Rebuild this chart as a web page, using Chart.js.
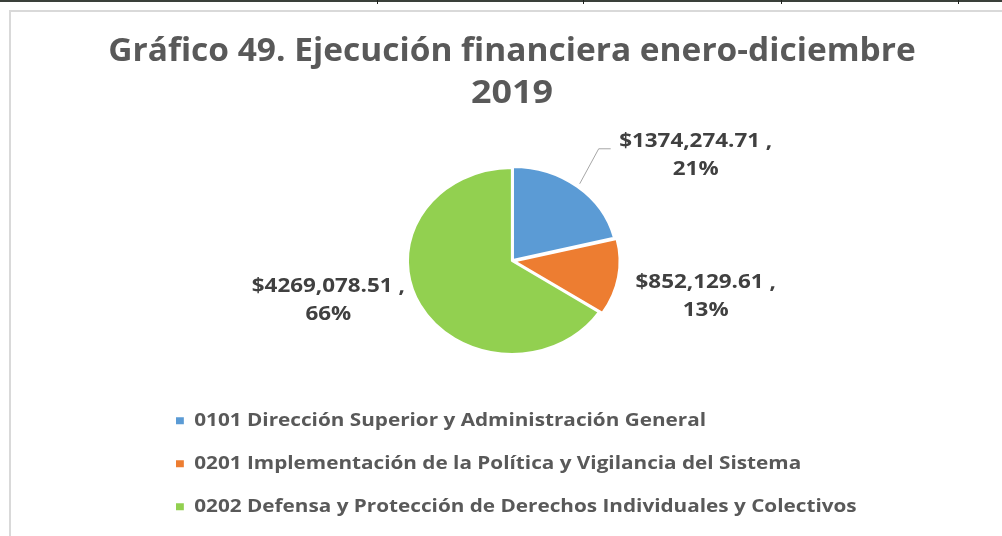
<!DOCTYPE html>
<html lang="es">
<head>
<meta charset="utf-8">
<title>Gráfico 49</title>
<script src="https://cdn.jsdelivr.net/npm/chart.js@4.4.1/dist/chart.umd.min.js"></script>
<style>
  html, body { margin: 0; padding: 0; background: #fff; }
  body { width: 1002px; height: 536px; position: relative; overflow: hidden; }
  #linea { position: absolute; left: 0; top: 0; width: 1002px; height: 2px; background: #3a403a; }
  .marca { position: absolute; top: 0; width: 1px; height: 4px; background: #1e221e; }
  #marco { position: absolute; left: 9px; top: 10px; width: 1000px; height: 540px;
           border-left: 2px solid #d9d9d9; border-top: 2px solid #d9d9d9; }
  #contenedor { position: absolute; left: 0; top: 0; width: 1002px; height: 536px; }
</style>
</head>
<body>
<div id="linea"></div>
<div class="marca" style="left:377px"></div>
<div class="marca" style="left:583px"></div>
<div class="marca" style="left:781px"></div>
<div class="marca" style="left:958px"></div>
<div id="marco"></div>
<div id="contenedor"><canvas id="grafico"></canvas></div>

<script>
// datos del gráfico
const titulo = ['Gráfico 49. Ejecución financiera enero-diciembre', '2019'];
const categorias = [
  '0101 Dirección Superior y Administración General',
  '0201 Implementación de la Política y Vigilancia del Sistema',
  '0202 Defensa y Protección de Derechos Individuales y Colectivos'
];
const montos = [1374274.71, 852129.61, 4269078.51];
const colores = ['#5b9bd5', '#ed7d31', '#92d050'];

// todo el grafico se dibuja un poco más ancho que alto
const ESTIRAR = 1.12;

// ubicacion de cada etiqueta respecto al borde de su rebanada
const ajusteEtiquetas = [
  { dx: 116, dy: -28, guia: { dx: -97, dy: -7, largo: 12 } },
  { dx: 80, dy: 18 },
  { dx: -92, dy: -5 }
];

function formatoMonto(v) {
  const s = v.toFixed(2);
  return '$' + s.slice(0, -6) + ',' + s.slice(-6);
}

const total = montos.reduce((a, b) => a + b, 0);

// estira en horizontal el dibujo de una caja alrededor de x0
function estirarCaja(chart, caja, centro) {
  if (!caja || caja._estirada) return;
  const dibujar = caja.draw.bind(caja);
  caja.draw = function (area) {
    const c = chart.ctx;
    const x0 = centro(caja);
    c.save();
    c.translate(x0, 0);
    c.scale(ESTIRAR, 1);
    c.translate(-x0, 0);
    dibujar(area);
    c.restore();
  };
  caja._estirada = true;
}

const elipse = {
  id: 'elipse',
  beforeDraw(chart) {
    estirarCaja(chart, chart.titleBlock, t => (t.left + t.right) / 2);
    estirarCaja(chart, chart.legend, l => l.legendHitBoxes.length ? l.legendHitBoxes[0].left : l.left);
  },
  beforeDatasetsDraw(chart) {
    const arco = chart.getDatasetMeta(0).data[0];
    const ctx = chart.ctx;
    ctx.save();
    ctx.translate(arco.x, arco.y);
    ctx.scale(ESTIRAR, 1);
    ctx.translate(-arco.x, -arco.y);
  },
  afterDatasetsDraw(chart) {
    chart.ctx.restore();
  }
};

const etiquetas = {
  id: 'etiquetas',
  afterDatasetsDraw(chart) {
    const ctx = chart.ctx;
    chart.getDatasetMeta(0).data.forEach((arco, i) => {
      const p = arco.getProps(['x', 'y', 'startAngle', 'endAngle', 'outerRadius', 'options']);
      const medio = (p.startAngle + p.endAngle) / 2;
      const off = p.options.offset || 0;
      const r = p.outerRadius + off;
      const bx = p.x + Math.cos(medio) * r * ESTIRAR;
      const by = p.y + Math.sin(medio) * r;
      const aj = ajusteEtiquetas[i];
      const lx = bx + aj.dx;
      const ly = by + aj.dy;

      if (aj.guia) {
        const gx = lx + aj.guia.dx;
        const gy = ly + aj.guia.dy;
        ctx.save();
        ctx.strokeStyle = '#a6a6a6';
        ctx.lineWidth = 1;
        ctx.beginPath();
        ctx.moveTo(bx, by);
        ctx.lineTo(gx, gy);
        ctx.lineTo(gx + aj.guia.largo, gy);
        ctx.stroke();
        ctx.restore();
      }

      const linea1 = formatoMonto(montos[i]) + ' ,';
      const linea2 = Math.round(montos[i] / total * 100) + '%';
      ctx.save();
      ctx.translate(lx, ly);
      ctx.scale(ESTIRAR, 1);
      ctx.fillStyle = '#404040';
      ctx.font = 'bold 20px "Open Sans"';
      ctx.textAlign = 'center';
      ctx.textBaseline = 'middle';
      ctx.fillText(linea1, 0, -14);
      ctx.fillText(linea2, 0, 14);
      ctx.restore();
    });
  }
};

const ctx = document.querySelector('#grafico').getContext('2d');

new Chart(ctx, {
  type: 'pie',
  data: {
    labels: categorias,
    datasets: [{
      data: montos,
      backgroundColor: colores,
      borderColor: '#ffffff',
      borderWidth: 2,
      offset: [5, 10, 0],
      radius: 93
    }]
  },
  options: {
    responsive: true,
    maintainAspectRatio: false,
    animation: false,
    layout: { padding: { left: 151.5, right: 129.5, top: 0, bottom: 10 } },
    plugins: {
      title: {
        display: true,
        text: titulo,
        color: '#595959',
        font: { family: 'Open Sans', size: 32, weight: 'bold', lineHeight: 1.31 },
        padding: { top: 31, bottom: 20 }
      },
      legend: {
        position: 'bottom',
        align: 'start',
        labels: {
          boxWidth: 7,
          boxHeight: 7,
          padding: 24.5,
          color: '#595959',
          font: { family: 'Open Sans', size: 18.5, weight: 'bold' },
          generateLabels(chart) {
            const base = Chart.overrides.pie.plugins.legend.labels.generateLabels(chart);
            return base.map(l => ({ ...l, lineWidth: 0 }));
          }
        }
      },
      tooltip: { enabled: false }
    }
  },
  plugins: [elipse, etiquetas]
});
</script>
</body>
</html>
